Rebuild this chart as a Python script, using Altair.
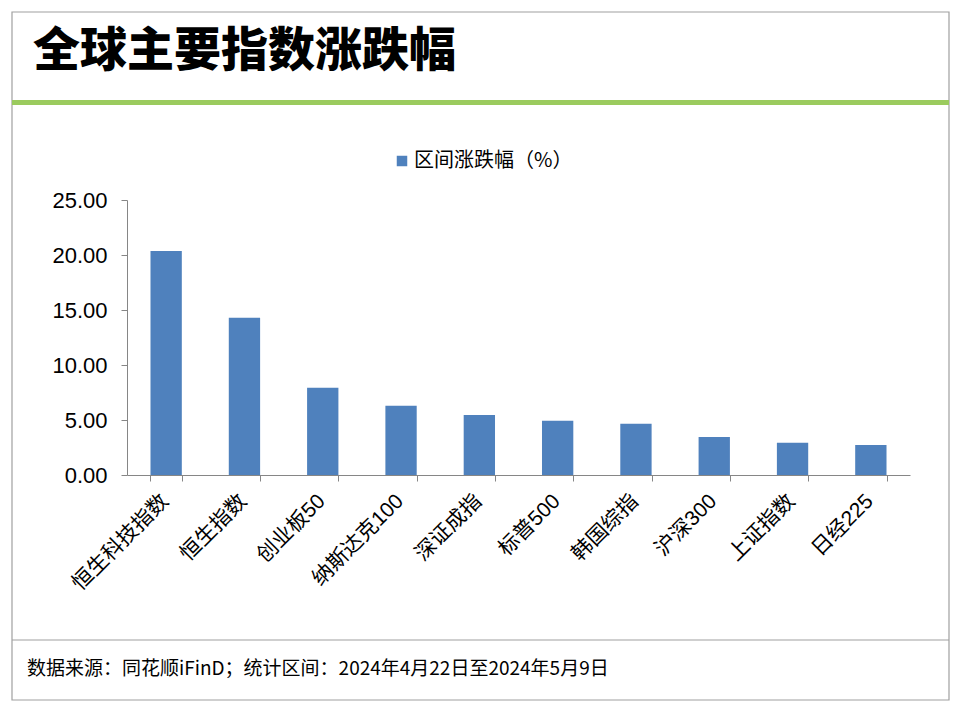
import altair as alt
import pandas as pd

categories = ["恒生科技指数", "恒生指数", "创业板50", "纳斯达克100", "深证成指",
              "标普500", "韩国综指", "沪深300", "上证指数", "日经225"]
values = [20.36, 14.30, 7.94, 6.30, 5.45, 4.94, 4.67, 3.45, 2.94, 2.73]
series_name = "区间涨跌幅（%）"
title_text = "全球主要指数涨跌幅"
footer_text = "数据来源：同花顺iFinD；统计区间：2024年4月22日至2024年5月9日"

df = pd.DataFrame({"name": categories, "value": values, "series": series_name})
one = pd.DataFrame({"k": [0]})  # single row for decorative marks

# plot area placed at page (127, 200); chart coords relative to that origin
OX, OY = 127, 200
def cx(px):
    return px - OX
def cy(py):
    return py - OY

W, H = 783, 275
NUM_FONT = "Liberation Sans, Arial, Noto Sans CJK SC"
CJK_FONT = "Noto Sans CJK SC"

bars = alt.Chart(df).mark_bar(color="#4F81BD").encode(
    x=alt.X("name:N", sort=categories, title=None,
            scale=alt.Scale(paddingInner=0.6, paddingOuter=0.3),
            axis=alt.Axis(labelAngle=-45, labelFontSize=21, labelFont=NUM_FONT,
                          labelColor="#000000", domainColor="#868686",
                          tickColor="#868686", tickSize=6, tickBand="extent",
                          labelPadding=9, labelOffset=-9)),
    y=alt.Y("value:Q", title=None,
            scale=alt.Scale(domain=[0, 25]),
            axis=alt.Axis(values=[0, 5, 10, 15, 20, 25], format=".2f",
                          labelFontSize=22, labelFont=NUM_FONT,
                          labelColor="#000000", domainColor="#868686",
                          tickColor="#868686", tickSize=6, labelPadding=14,
                          grid=False)),
    color=alt.Color("series:N", scale=alt.Scale(range=["#4F81BD"]),
                    legend=alt.Legend(orient="none", legendX=cx(392), legendY=cy(151),
                                      title=None, symbolType="square", symbolSize=110,
                                      symbolStrokeWidth=0,
                                      labelFontSize=20, labelFont=CJK_FONT,
                                      labelColor="#000000", labelOffset=2)),
)

frame = alt.Chart(one).mark_rect(fillOpacity=0, stroke="#A0A0A0", strokeWidth=1.2).encode(
    x=alt.value(cx(12)), x2=alt.value(cx(949)),
    y=alt.value(cy(12)), y2=alt.value(cy(700)),
)
green = alt.Chart(one).mark_rect(color="#9BCB5E").encode(
    x=alt.value(cx(12)), x2=alt.value(cx(949)),
    y=alt.value(cy(100)), y2=alt.value(cy(105)),
)
footer_line = alt.Chart(one).mark_rule(color="#A0A0A0", strokeWidth=1.2).encode(
    x=alt.value(cx(12)), x2=alt.value(cx(949)),
    y=alt.value(cy(640)),
)
title = alt.Chart(one).mark_text(text=title_text, align="left", baseline="middle",
                                 fontSize=47, fontWeight=900, font=CJK_FONT,
                                 color="#000000").encode(
    x=alt.value(cx(33)), y=alt.value(cy(52)),
)
footer = alt.Chart(one).mark_text(text=footer_text, align="left", baseline="middle",
                                  fontSize=19, fontWeight="normal", font=CJK_FONT,
                                  color="#000000").encode(
    x=alt.value(cx(27)), y=alt.value(cy(669)),
)

chart = alt.layer(frame, green, footer_line, title, footer, bars).properties(
    width=W, height=H,
    autosize=alt.AutoSizeParams(type="none"),
    padding={"left": OX - 8, "top": OY - 8, "right": 942 - (OX - 8) - W, "bottom": 702 - (OY - 8) - H},
    background="white",
).configure_view(stroke=None)

chart.save("out.html", embed_options={"renderer": "svg", "actions": False})
